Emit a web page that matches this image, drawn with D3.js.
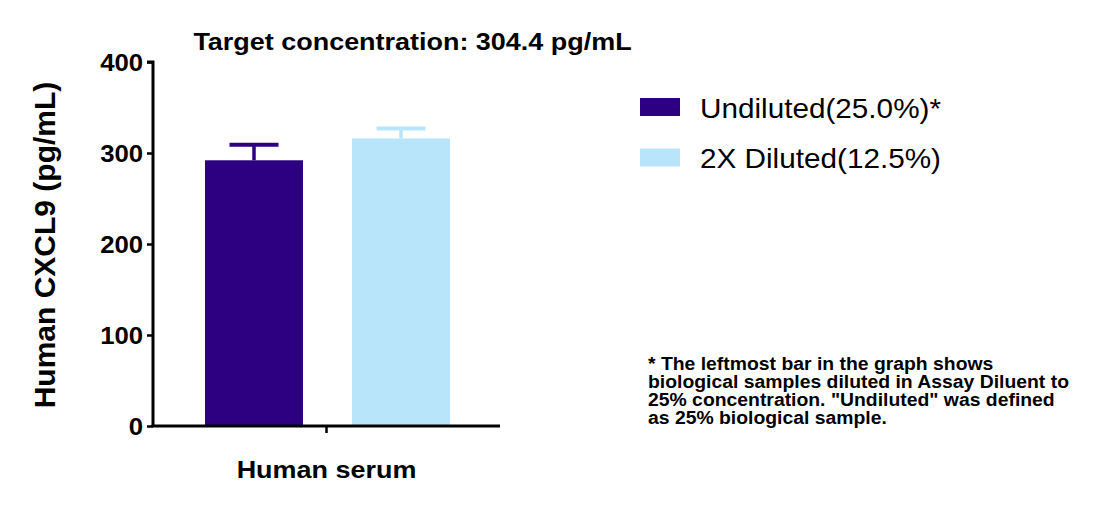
<!DOCTYPE html>
<html><head><meta charset="utf-8">
<script src="https://cdn.jsdelivr.net/npm/d3@7"></script>
<style>
body{margin:0;background:#fff;}
svg text{font-family:"Liberation Sans",Arial,sans-serif;fill:#000;}
</style></head>
<body><svg id="c" width="1095" height="507"></svg>
<script>
const groups = ["Human serum"];
const series = ["Undiluted(25.0%)*", "2X Diluted(12.5%)"];
const means = [292, 316];
const errs = [17, 11];
const colors = ["#2c0080", "#b9e5fa"];
const yTicks = [0, 100, 200, 300, 400];
const footnote = ["* The leftmost bar in the graph shows",
  "biological samples diluted in Assay Diluent to",
  "25% concentration. \"Undiluted\" was defined",
  "as 25% biological sample."];

const SX = 1.1; // horizontal text stretch seen in the reference
const svg = d3.select("#c");
const x0 = 153, x1 = 500, yTop = 62, yBot = 426;
const y = d3.scaleLinear().domain([0, 400]).range([yBot, yTop]);
const xg = d3.scaleBand().domain(groups).range([x0, x1]);
const xs = d3.scaleBand().domain(series).range([205, 450]).paddingInner(1/3);

// bars
svg.selectAll("rect.bar").data(series).join("rect").attr("class", "bar")
  .attr("x", d => xs(d)).attr("width", xs.bandwidth())
  .attr("y", (d,i) => y(means[i])).attr("height", (d,i) => y(0) - y(means[i]))
  .attr("fill", (d,i) => colors[i]);

// error bars
const capW = 49;
series.forEach((s,i) => {
  const cx = xs(s) + xs.bandwidth()/2;
  svg.append("line").attr("x1", cx).attr("x2", cx)
    .attr("y1", y(means[i])).attr("y2", y(means[i]+errs[i]))
    .attr("stroke", colors[i]).attr("stroke-width", 3.5);
  svg.append("line").attr("x1", cx - capW/2).attr("x2", cx + capW/2)
    .attr("y1", y(means[i]+errs[i])).attr("y2", y(means[i]+errs[i]))
    .attr("stroke", colors[i]).attr("stroke-width", 4);
});

// y axis
const ya = svg.append("g").attr("transform", `translate(${x0},0)`)
  .call(d3.axisLeft(y).tickValues(yTicks).tickSize(6).tickPadding(3));
ya.select(".domain").attr("stroke", "#000").attr("stroke-width", 3).attr("d", `M-6,${yTop}H0V${yBot}`);
ya.selectAll(".tick line").attr("stroke-width", 2.5);
ya.selectAll(".tick text").attr("font-size", 23.4).attr("font-weight", "bold")
  .attr("font-family", "Liberation Sans, Arial, sans-serif").attr("fill", "#000")
  .attr("dy", "0.36em").attr("transform", `scale(${SX},1)`);

// x axis
const xa = svg.append("g").attr("transform", `translate(0,${yBot})`)
  .call(d3.axisBottom(xg).tickSize(7).tickFormat(""));
xa.select(".domain").attr("stroke", "#000").attr("stroke-width", 3).attr("d", `M${x0-1.5},0H${x1}`);
xa.selectAll(".tick line").attr("stroke-width", 2.5);

function stretched(x, yb, anchor, size, weight, txt) {
  return svg.append("g").attr("transform", `translate(${x},${yb}) scale(${SX},1)`)
    .append("text").attr("text-anchor", anchor).attr("font-size", size)
    .attr("font-weight", weight).text(txt);
}

// labels
stretched(xg(groups[0]) + xg.bandwidth()/2, 478, "middle", 24.5, "bold", groups[0]);
svg.append("text").attr("transform", `translate(55,245) rotate(-90)`)
  .attr("text-anchor", "middle").attr("font-size", 30).attr("font-weight", "bold").text("Human CXCL9 (pg/mL)");
stretched(412.5, 50, "middle", 24.5, "bold", "Target concentration: 304.4 pg/mL");

// legend
series.forEach((s,i) => {
  const ly = 98 + i*50.5;
  svg.append("rect").attr("x", 640).attr("y", ly).attr("width", 40).attr("height", 18).attr("fill", colors[i]);
  stretched(700, 117.7 + i*50.5, "start", 27, "normal", s);
});

// footnote
footnote.forEach((t,i) => stretched(648, 370 + i*18, "start", 17.6, "bold", t));
</script></body></html>
